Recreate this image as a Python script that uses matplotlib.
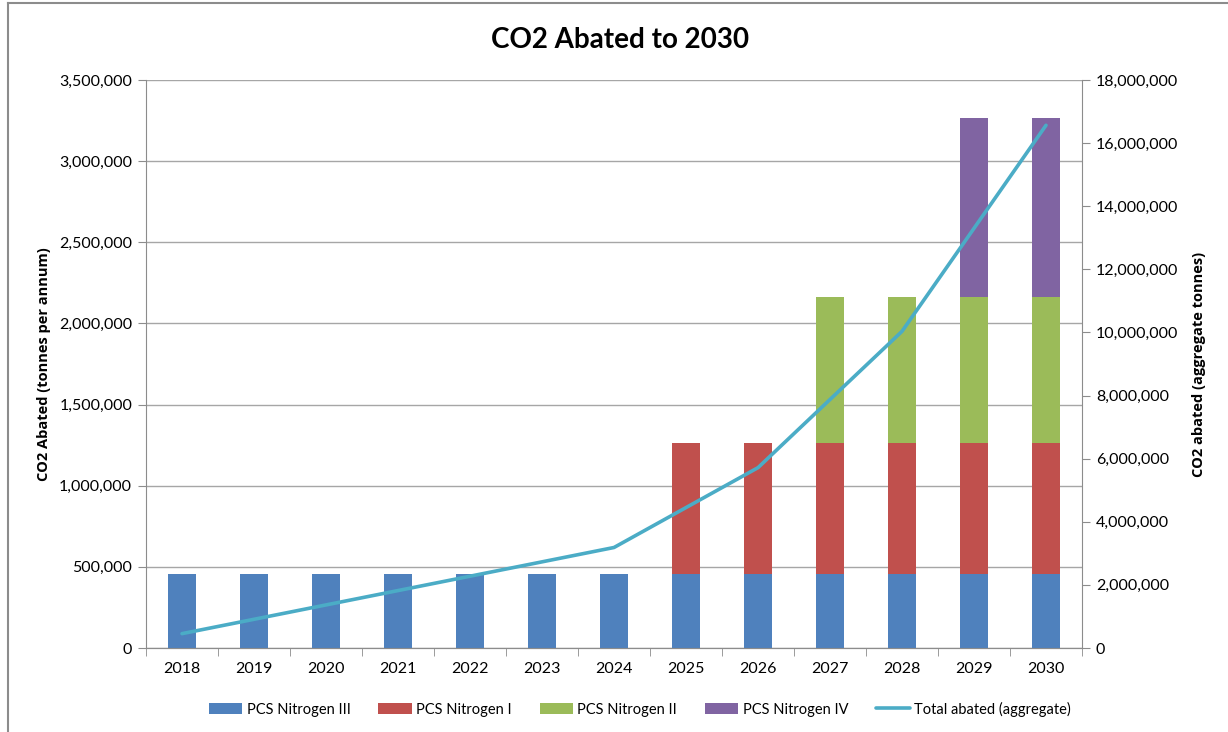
import matplotlib.pyplot as plt
import numpy as np
from matplotlib.ticker import FuncFormatter, FixedLocator

plt.rcParams['font.family'] = ['Lato', 'DejaVu Sans']

years = ['2018', '2019', '2020', '2021', '2022', '2023', '2024',
         '2025', '2026', '2027', '2028', '2029', '2030']
nitrogen_iii = [455000] * 13
nitrogen_i = [0] * 7 + [810000] * 6
nitrogen_ii = [0] * 9 + [895000] * 4
nitrogen_iv = [0] * 11 + [1105000] * 2
total_aggregate = [455000, 910000, 1365000, 1820000, 2275000, 2730000, 3185000,
                   4450000, 5715000, 7875000, 10035000, 13300000, 16565000]

series = [
    ('PCS Nitrogen III', nitrogen_iii, '#4f81bd'),
    ('PCS Nitrogen I', nitrogen_i, '#c0504d'),
    ('PCS Nitrogen II', nitrogen_ii, '#9bbb59'),
    ('PCS Nitrogen IV', nitrogen_iv, '#8064a2'),
]

fig = plt.figure(figsize=(12.28, 7.32), dpi=100)
ax = fig.add_axes([146 / 1228, 1 - 648 / 732, 936 / 1228, 568 / 732])
ax2 = ax.twinx()

x = np.arange(len(years))
bottom = np.zeros(len(years))
handles = []
for name, vals, color in series:
    vals = np.array(vals, dtype=float)
    b = ax.bar(x, vals, 0.4, bottom=bottom, color=color, label=name, zorder=3)
    handles.append(b)
    bottom += vals

line, = ax2.plot(x, total_aggregate, color='#4bacc6', lw=2.6,
                 label='Total abated (aggregate)', solid_capstyle='round', zorder=4)
handles.append(line)

ax.set_xlim(-0.5, len(years) - 0.5)
ax.set_ylim(0, 3500000)
ax2.set_ylim(0, 18000000)
ax.set_yticks(np.arange(0, 3500001, 500000))
ax2.set_yticks(np.arange(0, 18000001, 2000000))
fmt = FuncFormatter(lambda v, p: f'{int(v):,}')
ax.yaxis.set_major_formatter(fmt)
ax2.yaxis.set_major_formatter(fmt)

ax.set_xticks(x)
ax.set_xticklabels(years)
ax.xaxis.set_minor_locator(FixedLocator(np.arange(-0.5, len(years), 1.0)))
ax.tick_params(axis='x', which='major', length=0, pad=10, labelsize=11.5)
ax.tick_params(axis='x', which='minor', length=6, color='#8c8c8c', direction='out')
ax.tick_params(axis='y', length=6, color='#8c8c8c', labelsize=11.5, pad=4)
ax2.tick_params(axis='y', length=6, color='#8c8c8c', labelsize=11.5, pad=4)

ax.grid(axis='y', color='#a6a6a6', lw=1.0, zorder=0)
ax.set_axisbelow(True)
for a in (ax, ax2):
    a.spines['top'].set_visible(False)
    for s in ('left', 'right', 'bottom'):
        a.spines[s].set_color('#8c8c8c')
ax.spines['right'].set_visible(False)
ax2.spines['left'].set_visible(False)

label_font = dict(family=['Open Sans', 'DejaVu Sans'], fontsize=10.5, fontweight='bold')
ax.set_ylabel('CO2 Abated (tonnes per annum)', labelpad=6, **label_font)
ax2.set_ylabel('CO2 abated (aggregate tonnes)', labelpad=10, **label_font)

fig.text(0.505, 0.945, 'CO2 Abated to 2030', ha='center', va='center',
         fontsize=20, fontweight='bold')

fig.legend(handles=handles, loc='center', bbox_to_anchor=(0.521, 1 - 709 / 732),
           ncol=5, frameon=False, fontsize=10.5, handlelength=2.3,
           handleheight=0.85, columnspacing=1.9, handletextpad=0.3)

# chart frame edges
fig.add_artist(plt.Line2D([8 / 1228, 8 / 1228], [0, 1 - 3 / 732],
                          transform=fig.transFigure, color='#8c8c8c', lw=1.5))
fig.add_artist(plt.Line2D([8 / 1228, 1], [1 - 3 / 732, 1 - 3 / 732],
                          transform=fig.transFigure, color='#8c8c8c', lw=1.5))

fig.savefig('out.png', dpi=100)
